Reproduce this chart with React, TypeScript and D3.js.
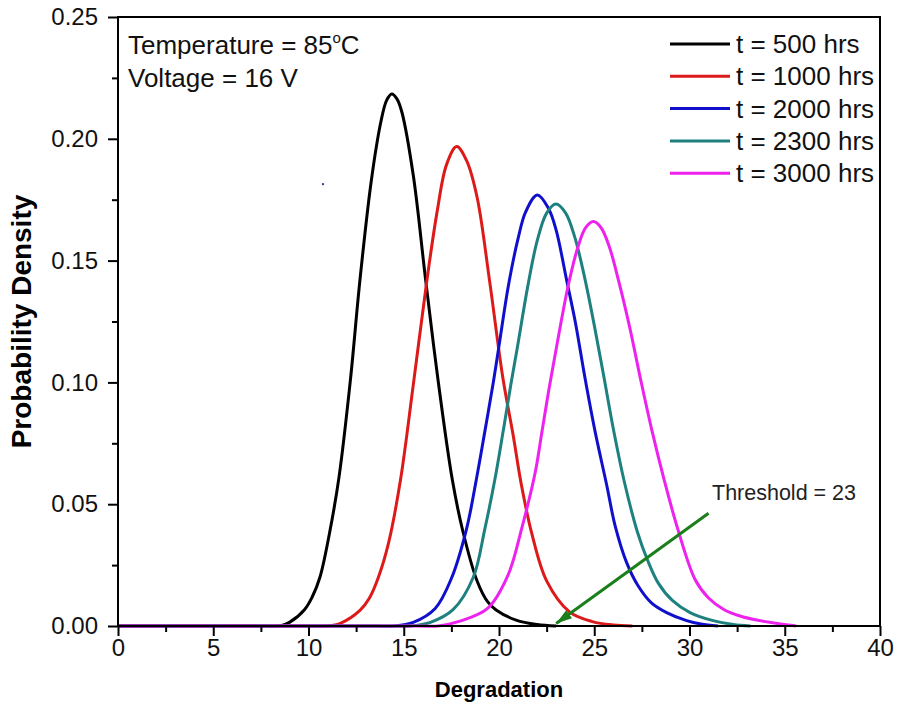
import React, { useRef, useEffect } from "react";
import * as d3 from "d3";

// legend / colours
const legendLabels = ["t = 500 hrs", "t = 1000 hrs", "t = 2000 hrs", "t = 2300 hrs", "t = 3000 hrs"];
const seriesColors = ["#000000", "#dd1a1a", "#1010cc", "#1f8080", "#ee22ee"];

// values (degradation, probability density)
const x500 = [0, 7.5, 8.5, 9.0, 9.8, 10.2, 10.6, 11.1, 11.6, 12.2, 12.7, 13.3, 13.8, 14.1, 14.37, 14.65, 14.9, 15.5, 16.15, 16.8, 17.55, 18.1, 18.85, 19.4, 19.85, 20.9, 22.0, 23.0];
const y500 = [0, 0, 0, 0.0015, 0.0068, 0.012, 0.020, 0.038, 0.061, 0.101, 0.142, 0.183, 0.207, 0.2158, 0.2184, 0.2163, 0.211, 0.185, 0.142, 0.101, 0.060, 0.039, 0.0185, 0.010, 0.0066, 0.0024, 0.0006, 0];

const x1000 = [0, 10.0, 11.0, 11.7, 12.7, 13.2, 13.67, 14.2, 14.83, 15.5, 16.2, 16.75, 17.25, 17.78, 18.3, 18.85, 19.5, 20.2, 20.75, 21.15, 21.72, 22.5, 23.7, 24.9, 26.0, 27.0];
const y1000 = [0, 0, 0, 0.0012, 0.0064, 0.0115, 0.020, 0.034, 0.060, 0.099, 0.141, 0.170, 0.1895, 0.1968, 0.191, 0.176, 0.142, 0.102, 0.078, 0.059, 0.038, 0.0185, 0.0058, 0.0018, 0.0004, 0];

const x2000 = [0, 13.5, 14.5, 15.5, 16.65, 17.5, 18.3, 18.83, 19.26, 19.7, 20.0, 20.5, 21.0, 21.4, 22.01, 22.6, 23.0, 23.55, 24.0, 24.51, 25.04, 25.65, 26.1, 26.7, 27.3, 28.0, 28.8, 29.85, 30.6, 31.5];
const y2000 = [0, 0, 0, 0.0015, 0.0072, 0.0195, 0.040, 0.061, 0.080, 0.100, 0.115, 0.140, 0.159, 0.170, 0.1769, 0.1714, 0.1625, 0.142, 0.125, 0.102, 0.080, 0.058, 0.041, 0.026, 0.0165, 0.0095, 0.0055, 0.0022, 0.0008, 0];

const x2300 = [0, 14.3, 15.3, 16.4, 17.6, 18.65, 19.26, 19.78, 20.22, 20.62, 21.0, 21.5, 22.0, 22.5, 22.99, 23.5, 24.0, 24.51, 25.0, 25.5, 26.0, 26.6, 27.27, 27.8, 28.37, 29.1, 30.03, 31.24, 32.3, 33.2];
const y2300 = [0, 0, 0, 0.0015, 0.0068, 0.020, 0.040, 0.060, 0.080, 0.099, 0.116, 0.139, 0.158, 0.1695, 0.1732, 0.1695, 0.159, 0.1425, 0.1235, 0.1025, 0.081, 0.0585, 0.0385, 0.027, 0.0175, 0.0105, 0.0055, 0.0022, 0.0006, 0];

const x3000 = [0, 15.8, 16.8, 17.95, 19.4, 20.48, 21.19, 21.9, 22.24, 22.64, 23.1, 23.64, 24.16, 24.55, 24.95, 25.35, 25.79, 26.27, 26.85, 27.44, 28.02, 28.67, 29.4, 30.3, 31.0, 31.8, 32.7, 33.7, 34.7, 35.6];
const y3000 = [0, 0, 0, 0.002, 0.0072, 0.021, 0.040, 0.063, 0.079, 0.098, 0.118, 0.140, 0.156, 0.1635, 0.166, 0.1636, 0.1557, 0.142, 0.123, 0.101, 0.0805, 0.060, 0.0394, 0.019, 0.0115, 0.0068, 0.004, 0.0022, 0.0009, 0];

const seriesX = [x500, x1000, x2000, x2300, x3000];
const seriesY = [y500, y1000, y2000, y2300, y3000];

// axes
const xTicks = [0, 5, 10, 15, 20, 25, 30, 35, 40];
const xMinorTicks = [2.5, 7.5, 12.5, 17.5, 22.5, 27.5, 32.5, 37.5];
const yTicks = [0, 0.05, 0.1, 0.15, 0.2, 0.25];
const yMinorTicks = [0.025, 0.075, 0.125, 0.175, 0.225];

// annotation: arrow from label down to threshold on the axis
const thresholdValue = 23;
const arrowStart = [31.0, 0.0463];
const strayDot = [10.76, 0.1814];

const FONT = "'Liberation Sans', Arial, sans-serif";

const App = () => {
    const svgRef = useRef(null);

    useEffect(() => {
        document.body.style.margin = "0";
        const width = 901;
        const height = 711;
        const left = 118, right = 880, top = 17, bottom = 626;

        const x = d3.scaleLinear().domain([0, 40]).range([left, right]);
        const y = d3.scaleLinear().domain([0, 0.25]).range([bottom, top]);

        const svg = d3.select(svgRef.current);
        svg.selectAll("*").remove();
        svg.attr("width", width).attr("height", height);

        svg.append("rect").attr("width", width).attr("height", height).attr("fill", "#fff");

        // curves
        const line = d3
            .line()
            .x((d) => x(d[0]))
            .y((d) => y(d[1]))
            .curve(d3.curveCatmullRom.alpha(0.5));

        seriesX.forEach((xs, i) => {
            const pts = xs.map((v, j) => [v, seriesY[i][j]]);
            svg.append("path")
                .attr("d", line(pts))
                .attr("fill", "none")
                .attr("stroke", seriesColors[i])
                .attr("stroke-width", 3)
                .attr("stroke-linejoin", "round");
        });

        // frame
        svg.append("rect")
            .attr("x", left)
            .attr("y", top)
            .attr("width", right - left)
            .attr("height", bottom - top)
            .attr("fill", "none")
            .attr("stroke", "#000")
            .attr("stroke-width", 2);

        // x axis
        const gx = svg.append("g").attr("transform", `translate(0,${bottom})`);
        gx.call(d3.axisBottom(x).tickValues(xTicks).tickSize(10).tickPadding(3).tickFormat(d3.format("d")));
        const gxm = svg.append("g").attr("transform", `translate(0,${bottom})`);
        gxm.call(d3.axisBottom(x).tickValues(xMinorTicks).tickSize(6).tickFormat(() => ""));

        // y axis
        const gy = svg.append("g").attr("transform", `translate(${left},0)`);
        gy.call(d3.axisLeft(y).tickValues(yTicks).tickSize(10).tickPadding(10).tickFormat(d3.format(".2f")));
        const gym = svg.append("g").attr("transform", `translate(${left},0)`);
        gym.call(d3.axisLeft(y).tickValues(yMinorTicks).tickSize(6).tickFormat(() => ""));

        [gx, gxm, gy, gym].forEach((g) => {
            g.select(".domain").remove();
            g.selectAll("line").attr("stroke", "#000").attr("stroke-width", 2);
            g.selectAll("text").attr("font-family", FONT).attr("font-size", 24).attr("fill", "#111");
        });

        // axis titles
        svg.append("text")
            .attr("x", (left + right) / 2)
            .attr("y", 697)
            .attr("text-anchor", "middle")
            .attr("font-family", FONT)
            .attr("font-weight", "bold")
            .attr("font-size", 22)
            .text("Degradation");

        svg.append("text")
            .attr("transform", `translate(31,${(top + bottom) / 2}) rotate(-90)`)
            .attr("text-anchor", "middle")
            .attr("font-family", FONT)
            .attr("font-weight", "bold")
            .attr("font-size", 28)
            .text("Probability Density");

        // conditions text
        const t1 = svg.append("text")
            .attr("x", 128)
            .attr("y", 54)
            .attr("font-family", FONT)
            .attr("font-size", 26)
            .attr("fill", "#111");
        t1.append("tspan").text("Temperature = 85");
        t1.append("tspan").attr("font-size", 15).attr("dy", -11).text("o");
        t1.append("tspan").attr("dy", 11).text("C");

        svg.append("text")
            .attr("x", 128)
            .attr("y", 87)
            .attr("font-family", FONT)
            .attr("font-size", 26)
            .attr("fill", "#111")
            .text("Voltage = 16 V");

        // legend
        const legend = svg.append("g");
        legendLabels.forEach((label, i) => {
            const ly = 44 + i * 32.3;
            legend.append("line")
                .attr("x1", 670)
                .attr("x2", 730)
                .attr("y1", ly)
                .attr("y2", ly)
                .attr("stroke", seriesColors[i])
                .attr("stroke-width", 3);
            legend.append("text")
                .attr("x", 736)
                .attr("y", ly)
                .attr("dy", "0.35em")
                .attr("font-family", FONT)
                .attr("font-size", 26)
                .attr("fill", "#111")
                .text(label);
        });

        // threshold arrow
        svg.append("defs")
            .append("marker")
            .attr("id", "arrowHead")
            .attr("markerUnits", "userSpaceOnUse")
            .attr("markerWidth", 18)
            .attr("markerHeight", 12)
            .attr("refX", 16)
            .attr("refY", 6)
            .attr("orient", "auto")
            .append("path")
            .attr("d", "M0,1 L16,6 L0,11 Z")
            .attr("fill", "#1a7f1a");

        svg.append("line")
            .attr("x1", x(arrowStart[0]))
            .attr("y1", y(arrowStart[1]))
            .attr("x2", x(thresholdValue))
            .attr("y2", y(0.001))
            .attr("stroke", "#1a7f1a")
            .attr("stroke-width", 3)
            .attr("marker-end", "url(#arrowHead)");

        svg.append("text")
            .attr("x", 712)
            .attr("y", 500)
            .attr("font-family", FONT)
            .attr("font-size", 21.5)
            .attr("fill", "#222")
            .text("Threshold = " + thresholdValue);

        svg.append("circle")
            .attr("cx", x(strayDot[0]))
            .attr("cy", y(strayDot[1]))
            .attr("r", 1.2)
            .attr("fill", "#3a3a9a");
    }, []);

    return (
        <div style={{ position: "absolute", left: 0, top: 0 }}>
            <svg ref={svgRef} style={{ display: "block" }}></svg>
        </div>
    );
};

export default App;
